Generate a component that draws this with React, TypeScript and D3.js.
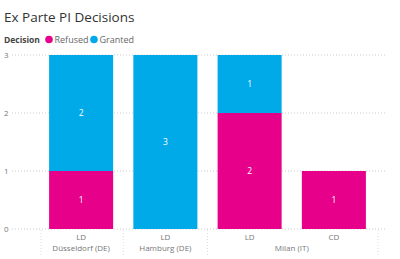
import { useEffect, useRef } from "react";
import * as d3 from "d3";

const courts = ["LD", "LD", "LD", "CD"];
const locations = ["Düsseldorf (DE)", "Hamburg (DE)", "Milan (IT)", "Milan (IT)"];
const refused = [1, 0, 2, 1];
const granted = [2, 3, 1, 0];
const yTicks = [0, 1, 2, 3];

const PINK = "#E6008A";
const BLUE = "#00A9E8";
const FONT = "'Open Sans', 'DejaVu Sans', sans-serif";

export default function App() {
  const svgRef = useRef<SVGSVGElement>(null);

  useEffect(() => {
    const svg = d3.select(svgRef.current);
    svg.selectAll("*").remove();

    const width = 400;
    const height = 259;
    svg.attr("width", width).attr("height", height).style("font-family", FONT);

    const keys = courts.map((_, i) => String(i));
    const x = d3.scaleBand().domain(keys).range([39, 376]).paddingInner(0.24).paddingOuter(0.12);
    const y = d3.scaleLinear().domain([0, 3]).range([229, 55]);

    // title and legend
    svg.append("text").attr("x", 4).attr("y", 22).attr("font-size", 13.5).attr("fill", "#333").text("Ex Parte PI Decisions");
    svg.append("text").attr("x", 4).attr("y", 43).attr("font-size", 8.5).attr("font-weight", "bold").attr("fill", "#444").text("Decision");
    const legend = [
      { name: "Refused", color: PINK, x: 49 },
      { name: "Granted", color: BLUE, x: 94 },
    ];
    legend.forEach(l => {
      svg.append("circle").attr("cx", l.x).attr("cy", 39.5).attr("r", 3.8).attr("fill", l.color);
      svg.append("text").attr("x", l.x + 5.5).attr("y", 43).attr("font-size", 9).attr("fill", "#666").text(l.name);
    });

    // grid and y labels
    yTicks.forEach(t => {
      svg.append("line")
        .attr("x1", 12).attr("x2", 386)
        .attr("y1", y(t)).attr("y2", y(t))
        .attr("stroke", "#ccc").attr("stroke-width", 1).attr("stroke-dasharray", "1,2");
      svg.append("text").attr("x", 4).attr("y", y(t) + 3).attr("font-size", 8).attr("fill", "#777").text(t);
    });

    // stacked bars
    const step = x.step();
    keys.forEach((k, i) => {
      const x0 = x(k)!;
      const bw = x.bandwidth();
      const segs = [
        { v0: 0, v1: refused[i], color: PINK },
        { v0: refused[i], v1: refused[i] + granted[i], color: BLUE },
      ];
      segs.forEach(s => {
        if (s.v1 - s.v0 <= 0) return;
        svg.append("rect")
          .attr("x", x0).attr("y", y(s.v1))
          .attr("width", bw).attr("height", y(s.v0) - y(s.v1))
          .attr("fill", s.color);
        svg.append("text")
          .attr("x", x0 + bw / 2).attr("y", (y(s.v0) + y(s.v1)) / 2 + 3)
          .attr("text-anchor", "middle").attr("font-size", 8.5).attr("fill", "#fff")
          .text(s.v1 - s.v0);
      });
      svg.append("text")
        .attr("x", x0 + bw / 2).attr("y", 240)
        .attr("text-anchor", "middle").attr("font-size", 8).attr("fill", "#777")
        .text(courts[i]);
    });

    // location groups on the x axis
    const groups = d3.groups(keys, k => locations[+k]);
    const bounds: number[] = [];
    groups.forEach(([name, ks], gi) => {
      const left = x(ks[0])! - (x.paddingInner() * step) / 2;
      const right = x(ks[ks.length - 1])! + x.bandwidth() + (x.paddingInner() * step) / 2;
      if (gi === 0) bounds.push(left + 2);
      bounds.push(gi === groups.length - 1 ? right + 2 : right);
      svg.append("text")
        .attr("x", (left + right) / 2).attr("y", 251)
        .attr("text-anchor", "middle").attr("font-size", 8).attr("fill", "#777")
        .text(name);
    });
    bounds.forEach(b => {
      svg.append("line")
        .attr("x1", b).attr("x2", b).attr("y1", 230).attr("y2", 256)
        .attr("stroke", "#ddd").attr("stroke-dasharray", "1,2");
    });
  }, []);

  return <svg ref={svgRef} style={{ position: "absolute", left: 0, top: 0 }} />;
}
